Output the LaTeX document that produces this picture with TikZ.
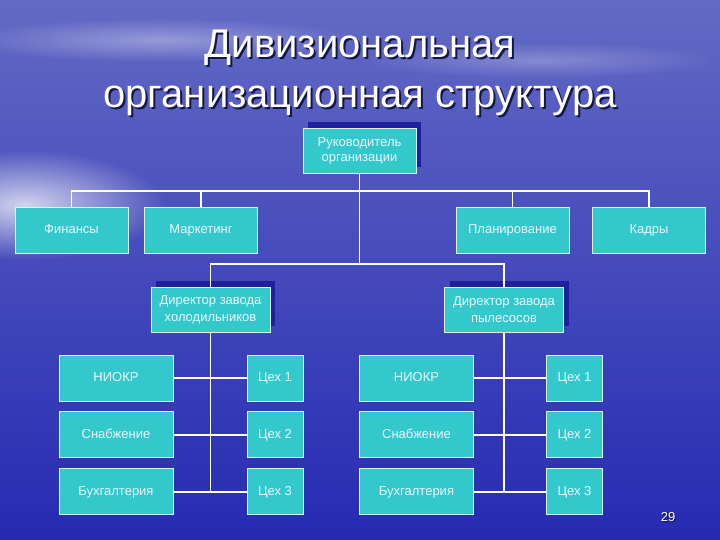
\documentclass[tikz,border=0pt]{standalone}
\usepackage{fontspec}
\setmainfont{Liberation Sans}
\usetikzlibrary{positioning,shadows,fadings}

\definecolor{boxcyan}{RGB}{50,200,204}
\definecolor{shadeblue}{RGB}{30,32,156}
\definecolor{seatop}{RGB}{98,106,196}
\definecolor{seamid}{RGB}{74,82,200}
\definecolor{seabot}{RGB}{38,42,178}
\definecolor{titleshade}{RGB}{20,22,70}
\tikzfading[name=softglow,inner color=transparent!0,outer color=transparent!100]

\begin{document}
\begin{tikzpicture}[
  x=1pt,y=-1pt,
  node distance=10pt,
  unit/.style={draw=white!85!cyan,line width=0.9pt,fill=boxcyan,text=white!92!cyan,align=center,inner sep=1pt,font=\fontsize{13}{15}\selectfont},
  single/.style={unit,text height=8.5pt,text depth=1.5pt},
  dept/.style={single,minimum width=113pt,minimum height=46pt},
  head/.style={unit,minimum width=113pt,minimum height=45pt,general shadow={fill=shadeblue,shadow xshift=5pt,shadow yshift=6pt}},
  plant/.style={head,minimum width=119pt,font=\fontsize{13}{17}\selectfont},
  service/.style={single,minimum width=114pt,minimum height=46pt},
  shop/.style={single,minimum width=56pt,minimum height=46pt},
  link/.style={draw=white,line width=1.6pt},
  heading/.style={align=center,font=\fontsize{40}{50}\selectfont}
]
\useasboundingbox (0,0) rectangle (720,540);
% background
\shade[top color=seatop,middle color=seamid,bottom color=seabot] (0,0) rectangle (720,540);
\fill[white,opacity=0.75,path fading=softglow] (25,205) ellipse (140pt and 55pt);
\fill[white,opacity=0.35,path fading=softglow] (160,40) ellipse (200pt and 22pt);
\fill[white,opacity=0.25,path fading=softglow] (540,60) ellipse (180pt and 18pt);

% title
\node[heading,text=titleshade] (titleshadow) at (362,75) {Дивизиональная\\организационная структура};
\node[heading,text=white] (title) at (360,73) {Дивизиональная\\организационная структура};

% top levels
\node[head] (chief) at (359.5,150.5) {Руководитель\\организации};
\node[dept] (fin) at (71.5,230) {Финансы};
\node[dept] (mkt) at (201,230) {Маркетинг};
\node[dept] (plan) at (512.5,230) {Планирование};
\node[dept] (staff) at (649,230) {Кадры};
\node[plant] (dirA) at (210.5,309.5) {Директор завода\\холодильников};
\node[plant] (dirB) at (504,309.5) {Директор завода\\пылесосов};

% plant A
\node[service] (rndA) at (116,378) {НИОКР};
\node[service,below=of rndA] (supA) {Снабжение};
\node[service,below=of supA] (accA) {Бухгалтерия};
\node[shop] (shopA1) at (275,378) {Цех 1};
\node[shop,below=of shopA1] (shopA2) {Цех 2};
\node[shop,below=of shopA2] (shopA3) {Цех 3};

% plant B
\node[service] (rndB) at (416.5,378) {НИОКР};
\node[service,below=of rndB] (supB) {Снабжение};
\node[service,below=of supB] (accB) {Бухгалтерия};
\node[shop] (shopB1) at (574.5,378) {Цех 1};
\node[shop,below=of shopB1] (shopB2) {Цех 2};
\node[shop,below=of shopB2] (shopB3) {Цех 3};

\coordinate (busTop) at (359.5,191);
\coordinate (busMid) at (359.5,264);
\coordinate (endA) at (dirA.south |- accA.east);
\coordinate (endB) at (dirB.south |- accB.east);

\draw[link] (chief.south) -- (busMid);
\draw[link] (fin.north) |- (busTop) -| (staff.north);
\draw[link] (mkt.north) |- (busTop);
\draw[link] (plan.north) |- (busTop);
\draw[link] (dirA.north) |- (busMid) -| (dirB.north);
\draw[link] (dirA.south) -- (endA);
\draw[link] (dirB.south) -- (endB);
\draw[link] (rndA) -- (shopA1);
\draw[link] (supA) -- (shopA2);
\draw[link] (accA) -- (shopA3);
\draw[link] (rndB) -- (shopB1);
\draw[link] (supB) -- (shopB2);
\draw[link] (accB) -- (shopB3);

\node[text=titleshade,font=\fontsize{13}{13}\selectfont] (pageshadow) at (669,518) {29};
\node[text=white,font=\fontsize{13}{13}\selectfont] (page) at (668,517) {29};
\end{tikzpicture}
\end{document}
